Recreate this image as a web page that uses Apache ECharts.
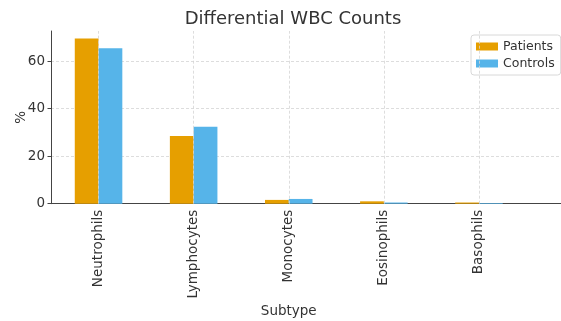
<!DOCTYPE html>
<html>
<head>
<meta charset="utf-8">
<script src="https://cdn.jsdelivr.net/npm/echarts@6/dist/echarts.min.js"></script>
<style>
    html, body { margin: 0; padding: 0; background: #fff; }
    #chart { width: 561px; height: 321px; }
</style>
</head>
<body>
<div id="chart"></div>
<script>
// data
var categories = ['Neutrophils', 'Lymphocytes', 'Monocytes', 'Eosinophils', 'Basophils'];
var patients = [69.5, 28.5, 1.6, 1.0, 0.5];
var controls = [65.4, 32.4, 2.0, 0.5, 0.3];
var yTicks = [0, 20, 40, 60];
var yMax = 72.7;

var font = 'DejaVu Sans';
var axisColor = '#444';
var gridLine = { color: '#d4d4d4', width: 0.8, type: [3, 2] };

var dom = document.getElementById('chart');
var myChart = echarts.init(dom, null, { renderer: 'canvas' });

// vertical grid lines at each category centre
var vLines = categories.map(function (c) { return { xAxis: c }; });

var option = {
    animation: false,
    textStyle: { fontFamily: font },
    title: {
        text: 'Differential WBC Counts',
        left: 288,
        top: 5,
        textAlign: 'center',
        textStyle: { fontFamily: font, fontSize: 18, fontWeight: 'normal', color: '#333' }
    },
    legend: {
        data: ['Patients', 'Controls'],
        orient: 'vertical',
        left: 471,
        top: 35,
        padding: [5, 6, 5, 5],
        itemWidth: 22,
        itemHeight: 8,
        itemGap: 4,
        icon: 'rect',
        borderColor: '#d8d8d8',
        borderWidth: 1,
        borderRadius: 3,
        backgroundColor: 'rgba(255,255,255,0.85)',
        textStyle: { fontFamily: font, fontSize: 12.5, color: '#333', lineHeight: 13 }
    },
    grid: [
        { left: 51, right: 34.5, top: 31, bottom: 117.3, outerBoundsMode: 'none', containLabel: false },
        { left: 51, right: 0, top: 31, bottom: 117.3, outerBoundsMode: 'none', containLabel: false }
    ],
    xAxis: [
        {
            type: 'category',
            gridIndex: 0,
            data: categories,
            name: 'Subtype',
            nameLocation: 'middle',
            nameGap: 101,
            nameMoveOverlap: false,
            nameTextStyle: { fontFamily: font, fontSize: 13.5, color: '#333' },
            axisLine: { show: false },
            axisTick: { alignWithLabel: true, length: 3.5, lineStyle: { color: axisColor } },
            axisLabel: { rotate: 90, margin: 6, fontFamily: font, fontSize: 13.5, color: '#333' },
            splitLine: { show: false }
        },
        {
            type: 'value',
            gridIndex: 1,
            min: 0,
            max: 1,
            axisLine: { show: true, onZero: false, lineStyle: { color: axisColor, width: 1 } },
            axisTick: { show: false },
            axisLabel: { show: false },
            splitLine: { show: false }
        }
    ],
    yAxis: [
        {
            type: 'value',
            gridIndex: 0,
            min: 0,
            max: yMax,
            interval: 20,
            name: '%',
            nameLocation: 'middle',
            nameGap: 23,
            nameMoveOverlap: false,
            nameRotate: 90,
            nameTextStyle: { fontFamily: font, fontSize: 13.5, color: '#333' },
            axisLine: { show: true, lineStyle: { color: axisColor, width: 1 } },
            axisTick: { show: true, length: 3.5, customValues: yTicks, lineStyle: { color: axisColor } },
            axisLabel: { fontFamily: font, fontSize: 13.5, color: '#333', margin: 6, customValues: yTicks },
            splitLine: { show: false }
        },
        {
            type: 'value',
            gridIndex: 1,
            min: 0,
            max: yMax,
            interval: 20,
            axisLine: { show: false },
            axisTick: { show: false },
            axisLabel: { show: false },
            splitLine: { show: true, showMinLine: false, showMaxLine: false, lineStyle: gridLine }
        }
    ],
    series: [
        {
            // empty series only carrying the vertical grid lines, drawn under the bars
            name: 'grid',
            type: 'line',
            xAxisIndex: 0,
            yAxisIndex: 0,
            data: [],
            z: 1,
            markLine: {
                silent: true,
                symbol: 'none',
                label: { show: false },
                lineStyle: gridLine,
                data: vLines
            }
        },
        {
            name: 'Patients',
            type: 'bar',
            xAxisIndex: 0,
            yAxisIndex: 0,
            data: patients,
            barGap: '0%',
            barCategoryGap: '50%',
            z: 3,
            itemStyle: { color: '#E69F00' }
        },
        {
            name: 'Controls',
            type: 'bar',
            xAxisIndex: 0,
            yAxisIndex: 0,
            data: controls,
            z: 3,
            itemStyle: { color: '#56B4E9' }
        }
    ]
};

myChart.setOption(option);
window.addEventListener('resize', myChart.resize);
</script>
</body>
</html>
